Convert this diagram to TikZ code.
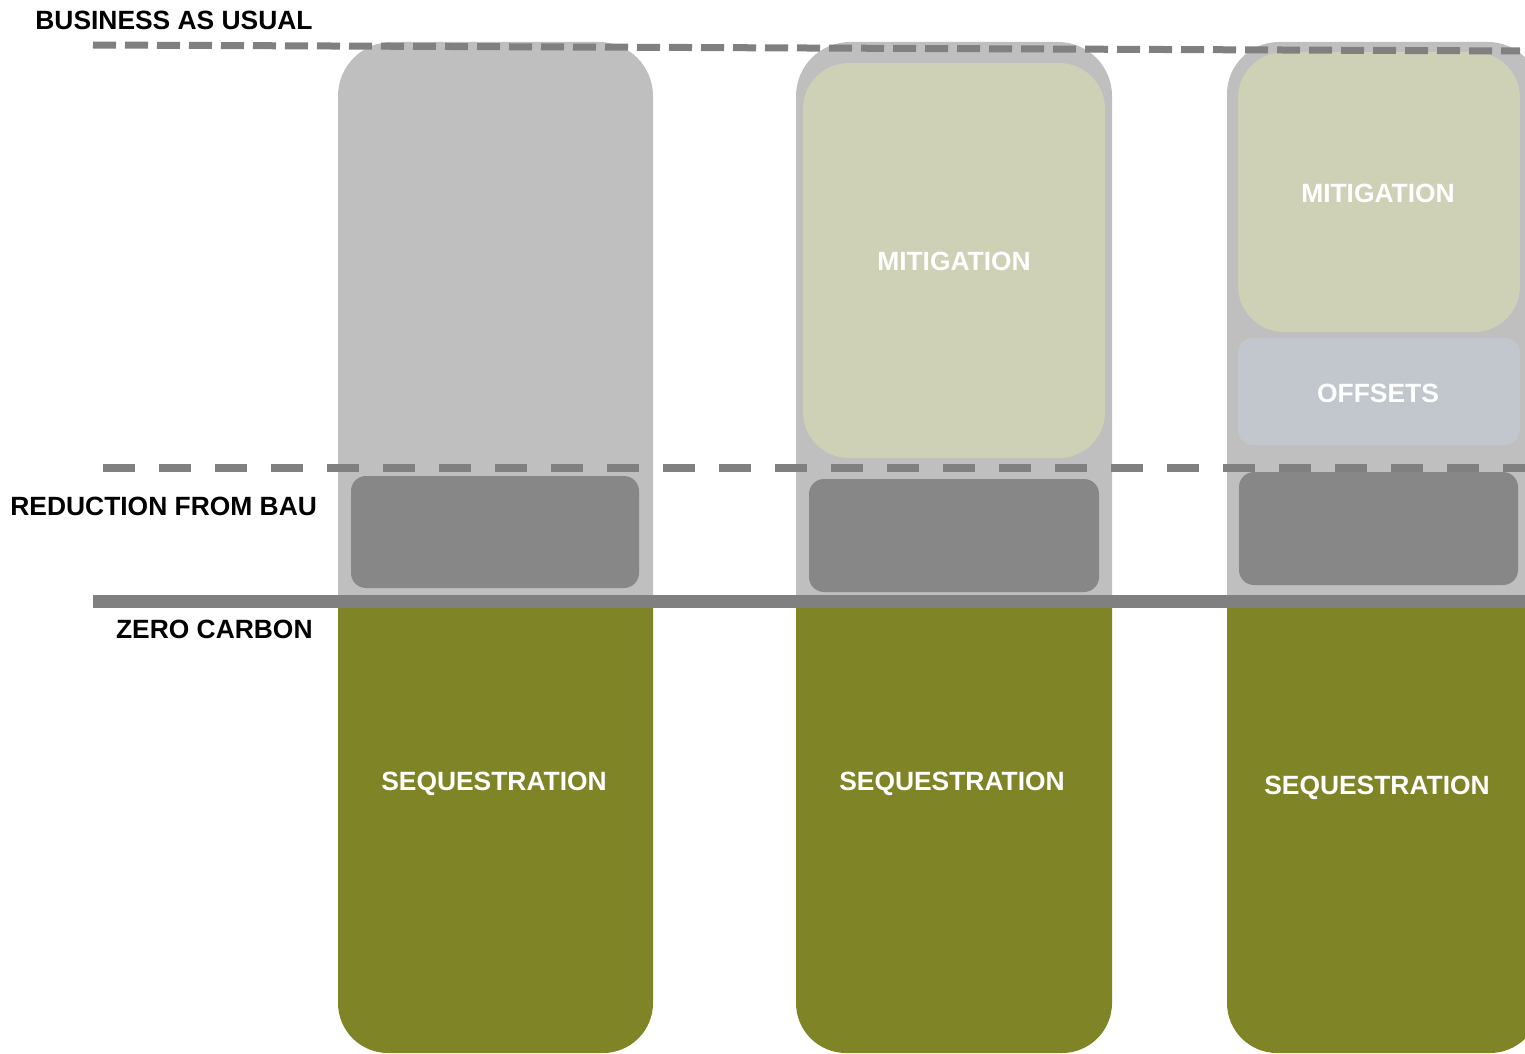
\documentclass[tikz,border=0pt]{standalone}
\usepackage{fontspec}
\setmainfont{Liberation Sans}
\usepackage{tikz}

\begin{document}
\begin{tikzpicture}[x=0.5pt,y=0.5pt,yscale=-1,xscale=1,
  colgray/.style={fill={rgb, 255:red, 191; green, 191; blue, 191}},
  darkbox/.style={fill={rgb, 255:red, 135; green, 135; blue, 135}, rounded corners=7.5pt},
  mitbox/.style={fill={rgb, 255:red, 206; green, 209; blue, 181}, rounded corners=23pt},
  offbox/.style={fill={rgb, 255:red, 193; green, 199; blue, 205}, rounded corners=7.5pt},
  seqgreen/.style={fill={rgb, 255:red, 127; green, 132; blue, 39}},
  bauline/.style={draw={rgb, 255:red, 128; green, 128; blue, 128}, line width=3.5pt, dash pattern=on 11.5pt off 4.5pt},
  redline/.style={draw={rgb, 255:red, 128; green, 128; blue, 128}, line width=4pt, dash pattern=on 16pt off 12pt},
  zeroline/.style={draw={rgb, 255:red, 128; green, 128; blue, 128}, line width=6.5pt},
  axislabel/.style={inner sep=0pt, font=\fontsize{13.2}{15}\selectfont\bfseries},
  boxlabel/.style={inner sep=0pt, text=white, font=\fontsize{13.2}{15}\selectfont\bfseries}]
\useasboundingbox (0,0) rectangle (1525,1054);

%Shape: Column 1 (gray part)
\fill[colgray] (338,602) [rounded corners=27pt] -- (338,42) -- (653,42) [sharp corners] -- (653,602) -- cycle ;
%Shape: Column 2 (gray part)
\fill[colgray] (796,602) [rounded corners=27pt] -- (796,42) -- (1112,42) [sharp corners] -- (1112,602) -- cycle ;
%Shape: Column 3 (gray part)
\fill[colgray] (1227,602) [rounded corners=26pt] -- (1227,42) -- (1540,42) [sharp corners] -- (1540,602) -- cycle ;

%Shape: Mitigation boxes
\fill[mitbox] (803,63) rectangle (1105,458) ;
\fill[mitbox] (1238,52) rectangle (1520,332) ;
%Shape: Offsets box
\fill[offbox] (1238,338) rectangle (1520,445) ;

%Shape: Reduction boxes
\fill[darkbox] (351,476) rectangle (639,588) ;
\fill[darkbox] (809,479) rectangle (1099,592) ;
\fill[darkbox] (1239,472) rectangle (1518,585) ;

%Shape: Sequestration (green part)
\fill[seqgreen] (338,602) [rounded corners=25pt] -- (338,1053) -- (653,1053) [sharp corners] -- (653,602) -- cycle ;
\fill[seqgreen] (796,602) [rounded corners=25pt] -- (796,1053) -- (1112,1053) [sharp corners] -- (1112,602) -- cycle ;
\fill[seqgreen] (1227,602) [rounded corners=25pt] -- (1227,1053) -- (1540,1053) [sharp corners] -- (1540,602) -- cycle ;

%Straight Lines
\coordinate (bauL) at (93,45) ;
\coordinate (bauR) at (1520,51) ;
\coordinate (redL) at (103,468) ;
\coordinate (redR) at (1525,468) ;
\coordinate (zeroL) at (93,601.5) ;
\coordinate (zeroR) at (1525,601.5) ;
\draw[bauline] (bauL) -- (bauR) ;
\draw[redline] (redL) -- (redR) ;
\draw[zeroline] (zeroL) -- (zeroR) ;

% Text Node
\node (bau) [axislabel, anchor=base west] at (35,30) {BUSINESS AS USUAL};
% Text Node
\node (reduction) [axislabel, anchor=base west] at (10,515) {REDUCTION FROM BAU};
% Text Node
\node (zero) [axislabel, anchor=base east] at (313,638) {ZERO CARBON};
% Text Node
\node (mitB) [boxlabel, anchor=base] at (954,270) {MITIGATION};
% Text Node
\node (mitC) [boxlabel, anchor=base] at (1378,202) {MITIGATION};
% Text Node
\node (offC) [boxlabel, anchor=base] at (1378,402) {OFFSETS};
% Text Node
\node (seqA) [boxlabel, anchor=base] at (494,790) {SEQUESTRATION};
% Text Node
\node (seqB) [boxlabel, anchor=base] at (952,790) {SEQUESTRATION};
% Text Node
\node (seqC) [boxlabel, anchor=base] at (1377,794) {SEQUESTRATION};

\end{tikzpicture}
\end{document}
